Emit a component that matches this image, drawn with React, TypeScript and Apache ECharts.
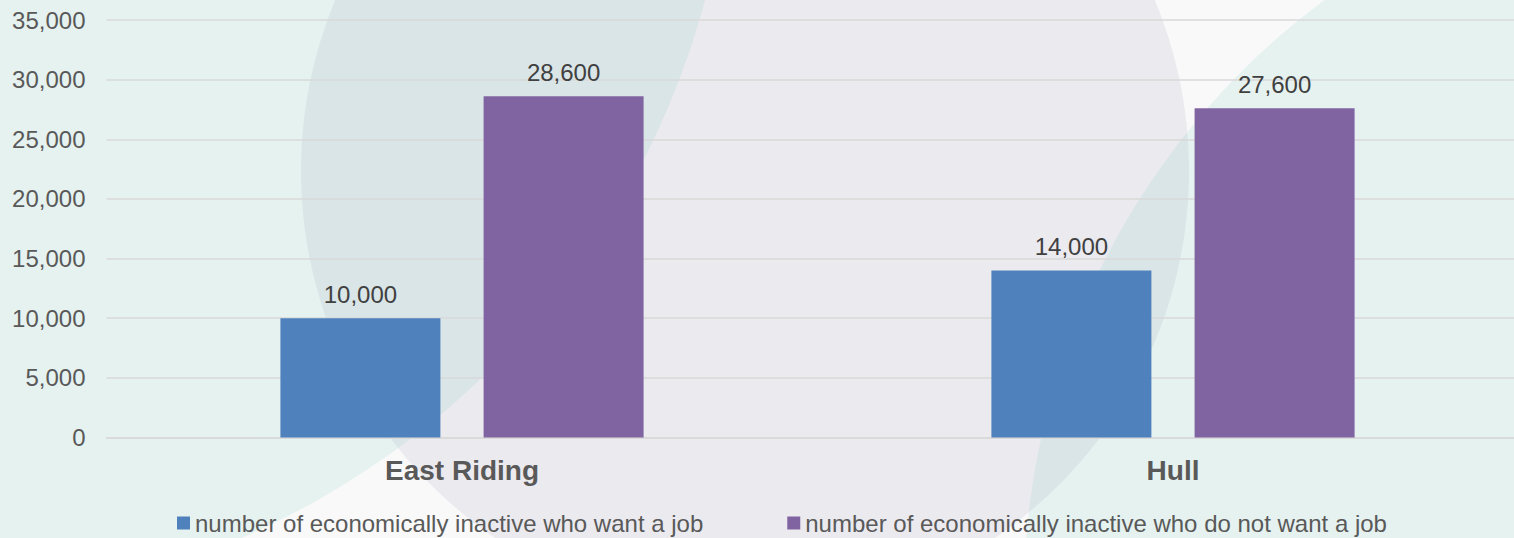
import React, { useEffect, useRef } from "react";
import * as echarts from "echarts";

const categories = ["East Riding", "Hull"];
const seriesNames = [
  "number of economically inactive who want a job",
  "number of economically inactive who do not want a job",
];
const wantJob = [10000, 14000];
const notWantJob = [28600, 27600];
const yMin = 0;
const yMax = 35000;
const yStep = 5000;

const FONT = "'Liberation Sans', Arial, Helvetica, sans-serif";
const fmt = (v: number) => Number(v).toLocaleString("en-US");

export default function App() {
  const ref = useRef<HTMLDivElement>(null);
  useEffect(() => {
    document.body.style.margin = "0";
    if (!ref.current) return;
    const chart = echarts.init(ref.current, undefined, { renderer: "svg" });
    const labelCfg = {
      show: true,
      position: "top" as const,
      distance: 12,
      fontSize: 24,
      fontFamily: FONT,
      color: "#404040",
      formatter: (p: any) => fmt(p.value),
    };
    chart.setOption({
      animation: false,
      backgroundColor: "#f9f9f9",
      textStyle: { fontFamily: FONT },
      graphic: [
        {
          type: "circle",
          z: -10,
          silent: true,
          shape: { cx: 745, cy: 171, r: 444 },
          style: { fill: "#ebeaef" },
        },
        {
          type: "circle",
          z: -9,
          silent: true,
          shape: { cx: -85, cy: -212, r: 818 },
          style: { fill: "rgba(122,202,189,0.15)" },
        },
        {
          type: "circle",
          z: -9,
          silent: true,
          shape: { cx: 1767, cy: 597, r: 743 },
          style: { fill: "rgba(122,202,189,0.15)" },
        },
      ],
      grid: { left: 106.5, top: 20, width: 1422, height: 417.5, containLabel: false },
      legend: {
        left: 177,
        top: 511,
        padding: 0,
        itemWidth: 13,
        itemHeight: 13,
        itemGap: 84,
        icon: "rect",
        textStyle: { fontSize: 24, color: "#595959", fontFamily: FONT },
        data: seriesNames,
      },
      xAxis: {
        type: "category",
        data: categories,
        axisLine: { show: true, lineStyle: { color: "#d9d9d9", width: 1.5 } },
        axisTick: { show: false },
        axisLabel: {
          fontSize: 28,
          fontWeight: "bold",
          color: "#595959",
          fontFamily: FONT,
          margin: 19,
          lineHeight: 28,
        },
      },
      yAxis: {
        type: "value",
        min: yMin,
        max: yMax,
        interval: yStep,
        axisLine: { show: false },
        axisTick: { show: false },
        splitLine: { lineStyle: { color: "#d9d9d9", width: 1.5 } },
        axisLabel: {
          fontSize: 24,
          color: "#595959",
          fontFamily: FONT,
          margin: 21,
          formatter: (v: number) => fmt(v),
        },
      },
      series: [
        {
          name: seriesNames[0],
          type: "bar",
          data: wantJob,
          barWidth: 160,
          barGap: "27%",
          itemStyle: { color: "#4f81bd" },
          label: labelCfg,
        },
        {
          name: seriesNames[1],
          type: "bar",
          data: notWantJob,
          barWidth: 160,
          itemStyle: { color: "#8064a2" },
          label: labelCfg,
        },
      ],
    });
    return () => chart.dispose();
  }, []);
  return (
    <div style={{ width: 1514, height: 538, overflow: "hidden", position: "relative" }}>
      <div ref={ref} style={{ width: 1540, height: 538 }} />
    </div>
  );
}
